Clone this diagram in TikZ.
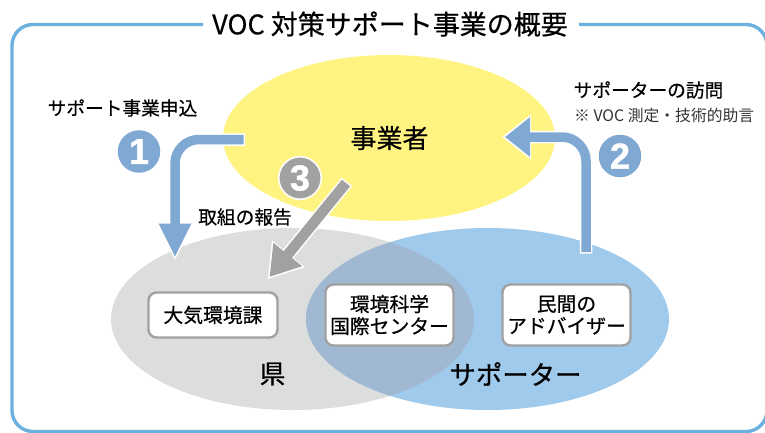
\documentclass[tikz,border=0pt]{standalone}
\usepackage{fontspec}
\setmainfont{Noto Sans CJK JP}[BoldFont={Noto Sans CJK JP},BoldFeatures={FakeBold=0.5}]
\newfontfamily\digitfont{Liberation Sans Bold}[FakeBold=1.2,BoldFont={Liberation Sans Bold},BoldFeatures={FakeBold=1.2}]
\usetikzlibrary{arrows.meta,shapes.geometric}
\definecolor{framec}{HTML}{6CB0E0}
\definecolor{yellowc}{HTML}{FFF382}
\definecolor{grayc}{HTML}{DCDDDD}
\definecolor{bluec}{HTML}{A0CAEC}
\definecolor{overlapc}{HTML}{A0B8D2}
\definecolor{arrowb}{HTML}{7FA9D3}
\definecolor{arrowg}{HTML}{A0A1A0}
\tikzset{
  txt/.style={inner sep=0pt,align=center,text=black},
  fs/.style={font=\bfseries\fontsize{#1}{#1}\selectfont},
  blob/.style={ellipse,inner sep=0pt,minimum width=363pt,minimum height=182pt},
  orgbox/.style={draw=arrowg,line width=2.4pt,fill=white,rounded corners=8pt,inner sep=0pt,align=center,font=\bfseries\fontsize{19.8}{22}\selectfont},
  numdisc/.style={circle,inner sep=0pt,minimum size=42.5pt,text=white,font=\digitfont\bfseries\fontsize{36}{36}\selectfont},
}
\begin{document}
\begin{tikzpicture}[x=1pt,y=-1pt]
\useasboundingbox (0,0) rectangle (765,432);
\clip (0,0) rectangle (765,432);
\fill[white] (0,0) rectangle (765,432);
\draw[framec,line width=3.4pt,rounded corners=21pt] (203,24.5) -- (12,24.5) -- (12,431.5) -- (767,431.5) -- (767,24.5) -- (579,24.5);
\node[blob,fill=yellowc,minimum width=332pt,minimum height=166pt] (emp) at (389,138) {};
\node[blob,fill=grayc] (pref) at (292.5,319) {};
\node[blob,fill=bluec] (supp) at (487.5,319) {};
\begin{scope}
\clip (292.5,319) ellipse [x radius=181.5pt,y radius=91pt];
\fill[overlapc] (487.5,319) ellipse [x radius=181.5pt,y radius=91pt];
\end{scope}
% named ends of the connectors
\coordinate (a1s) at (243.5,139.5);
\coordinate (a1m) at (175,139.5);
\coordinate (a1e) at (175,257.5);
\coordinate (a2s) at (586,252);
\coordinate (a2m) at (586,137);
\coordinate (a2e) at (505,137);
\coordinate (a3s) at (346,183);
\coordinate (a3e) at (269.5,277);
% arrow 1
\draw[white,line width=12.5pt,rounded corners=24pt,shorten <=-1.5pt,shorten >=-3pt,-{Triangle[length=38pt,width=36pt]}] (a1s) -- (a1m) -- (a1e);
\draw[arrowb,line width=9.5pt,rounded corners=24pt,-{Triangle[length=34pt,width=30pt]}] (a1s) -- (a1m) -- (a1e);
% arrow 2
\draw[white,line width=12.5pt,rounded corners=24pt,shorten <=-1.5pt,shorten >=-3pt,-{Triangle[length=29pt,width=43pt]}] (a2s) -- (a2m) -- (a2e);
\draw[arrowb,line width=9.5pt,rounded corners=24pt,-{Triangle[length=25pt,width=38pt]}] (a2s) -- (a2m) -- (a2e);
% arrow 3
\draw[white,line width=13.5pt,shorten <=-1.5pt,shorten >=-3pt,-{Triangle[length=33pt,width=40pt]}] (a3s) -- (a3e);
\draw[arrowg,line width=10.5pt,-{Triangle[length=29pt,width=35pt]}] (a3s) -- (a3e);
% number discs
\node[numdisc,fill=arrowb] (n1) at (139,151.5) {1};
\node[numdisc,fill=arrowb] (n2) at (620,156) {2};
\node[numdisc,fill=arrowg,draw=white,line width=1.5pt] (n3) at (300,178) {3};
% boxes
\node[orgbox,minimum width=129pt,minimum height=45pt] (b1) at (213,315) {大気環境課};
\node[orgbox,minimum width=128pt,minimum height=61pt] (b2) at (389.5,315) {環境科学\\国際センター};
\node[orgbox,minimum width=128pt,minimum height=61pt] (b3) at (566.5,315) {民間の\\アドバイザー};
% labels
\node[txt,fs=27] (title) at (390,24) {VOC 対策サポート事業の概要};
\node[txt,fs=18.7] (t1) at (122.5,108) {サポート事業申込};
\node[txt,fs=18.7,anchor=west] (t2) at (573.5,90) {サポーターの訪問};
\node[txt,anchor=west,text=black!80,font=\fontsize{15.8}{16}\selectfont] (t2b) at (574,115) {※ VOC 測定・技術的助言};
\node[txt,fs=18.7] (t3) at (245,217) {取組の報告};
\node[txt,fs=26] (l1) at (389.5,138) {事業者};
\node[txt,fs=26] (l2) at (272.5,374) {県};
\node[txt,fs=26.4] (l3) at (515.5,374) {サポーター};
\end{tikzpicture}
\end{document}
